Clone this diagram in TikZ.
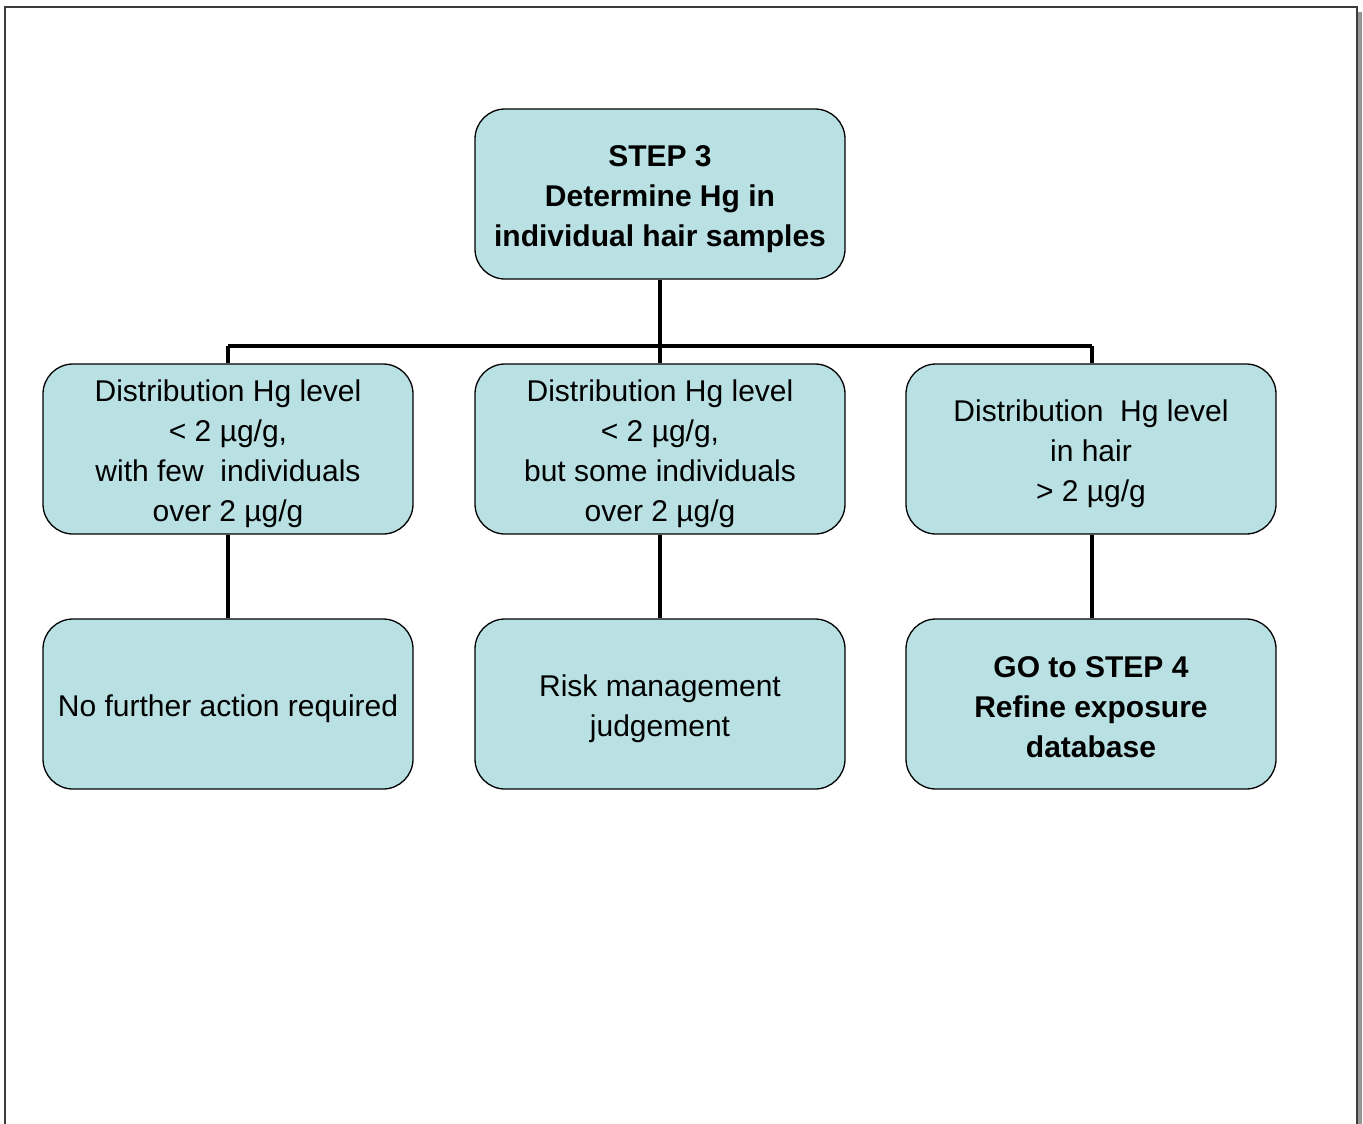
\documentclass[tikz,border=0pt]{standalone}
\usepackage{fontspec}
\setmainfont{Liberation Sans}
\definecolor{boxfill}{RGB}{185,224,227}
\definecolor{framegray}{RGB}{60,60,60}
\definecolor{shadowgray}{RGB}{150,150,150}
\newcommand{\ts}{\rule{0pt}{31pt}}
\begin{document}
\begin{tikzpicture}[x=1pt,y=-1pt,
  box/.style={draw=black,line width=1.3pt,fill=boxfill,rounded corners=30pt,
    minimum width=370pt,minimum height=170pt,align=center,inner sep=0pt,
    font=\fontsize{30}{40}\selectfont},
  boldbox/.style={box,font=\fontsize{30}{40}\selectfont\bfseries},
  conn/.style={line width=4pt,black}]
\useasboundingbox (0,0) rectangle (1363,1124);
% page frame with shadow
\fill[shadowgray] (1358,12) rectangle (1362,1124);
\draw[framegray,line width=2pt] (5,1130) -- (5,7) -- (1357,7) -- (1357,1130);
% nodes
\node[boldbox] (top) at (660,194) {\ts STEP 3\\Determine Hg in\\individual hair samples};
\node[box] (m1) at (228,449) {\ts Distribution Hg level\\< 2 µg/g,\\with few\ \ individuals\\over 2 µg/g};
\node[box] (m2) at (660,449) {\ts Distribution Hg level\\< 2 µg/g,\\but some individuals\\over 2 µg/g};
\node[box] (m3) at (1091,449) {\ts Distribution\ \ Hg level\\in hair\\> 2 µg/g};
\node[box] (b1) at (228,704) {\ts No further action required};
\node[box] (b2) at (660,704) {\ts Risk management\\judgement};
\node[boldbox] (b3) at (1091,704) {\rule{0pt}{28pt}GO to STEP 4\\Refine exposure\\database};
% connectors
\coordinate (busL) at (228,346);
\coordinate (busM) at (660,346);
\coordinate (busR) at (1092,346);
\draw[conn] (top.south) -- (busM);
\draw[conn] (busL) -- (busR);
\draw[conn] (busL) -- (m1.north);
\draw[conn] (busM) -- (m2.north);
\draw[conn] (busR) -- (m3.north -| busR);
\draw[conn] (m1.south) -- (b1.north);
\draw[conn] (m2.south) -- (b2.north);
\draw[conn] (m3.south -| busR) -- (b3.north -| busR);
\end{tikzpicture}
\end{document}
